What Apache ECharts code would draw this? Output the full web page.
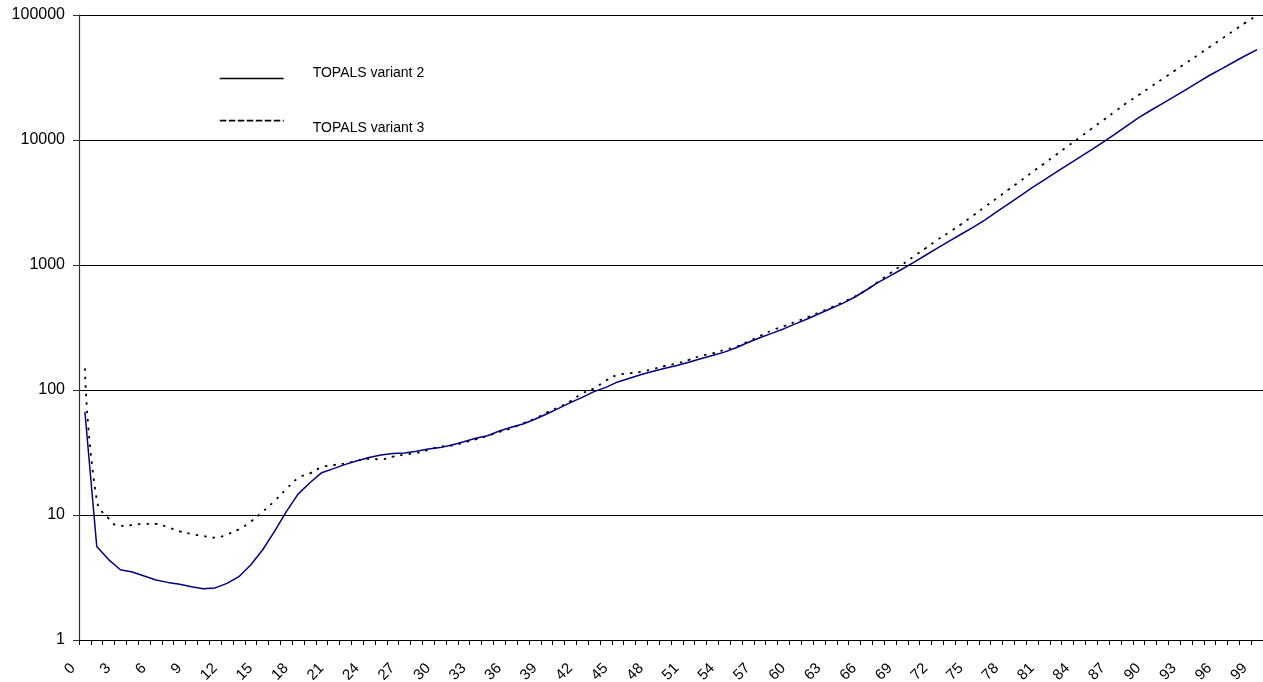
<!DOCTYPE html>
<html>
<head>
<meta charset="utf-8">
<script src="https://cdn.jsdelivr.net/npm/echarts@6/dist/echarts.min.js"></script>
<style>
html,body{margin:0;padding:0;background:#fff;}
#chart{width:1263px;height:682px;}
</style>
</head>
<body>
<div id="chart"></div>
<script>
var categories = [];
for (var a = 0; a <= 99; a++) categories.push(String(a));

var yTickLabels = ['1', '10', '100', '1000', '10000', '100000'];

var seriesNames = ['TOPALS variant 2', 'TOPALS variant 3'];

var variant2 = [
  67, 5.6, 4.4, 3.65, 3.5, 3.25, 3.02, 2.89, 2.79, 2.67,
  2.57, 2.61, 2.84, 3.21, 3.98, 5.25, 7.35, 10.6, 14.7, 18.1,
  21.8, 23.5, 25.4, 27.2, 28.8, 30.2, 31.1, 31.3, 32.3, 33.7,
  34.6, 36.3, 38.6, 41.1, 43.1, 47, 50.3, 53.5, 58.3, 64.3,
  71.3, 79.2, 87.4, 97, 105, 116, 124, 133, 141, 149,
  157, 167, 178, 189, 201, 218, 240, 262, 284, 308,
  338, 370, 407, 449, 493, 552, 631, 726, 819, 925,
  1050, 1197, 1366, 1552, 1762, 2000, 2290, 2660, 3080, 3580,
  4150, 4780, 5500, 6320, 7260, 8340, 9600, 11140, 12980, 15130,
  17220, 19550, 22200, 25300, 28850, 32960, 37070, 41880, 47200, 52800
];

var variant3 = [
  149, 13.2, 9.4, 8.17, 8.3, 8.5, 8.5, 7.97, 7.4, 7.05,
  6.79, 6.59, 7.0, 7.68, 8.84, 10.6, 12.9, 16.1, 19.7, 21.5,
  24.1, 25.1, 25.9, 27.2, 28.1, 27.9, 29.3, 30.4, 31.3, 33.1,
  35.2, 36, 37.9, 40.3, 42.9, 46.1, 49.4, 54.1, 59, 65.9,
  72.7, 81.2, 94, 103, 119, 132, 136, 140, 147, 156,
  163, 174, 187, 196, 209, 222, 244, 270, 299, 323,
  351, 381, 417, 456, 504, 557, 632, 735, 857, 1003,
  1170, 1361, 1589, 1830, 2115, 2480, 2910, 3410, 4010, 4700,
  5520, 6470, 7590, 8910, 10450, 12270, 14390, 16900, 19820, 22900,
  26550, 30760, 35650, 41300, 47860, 55590, 64400, 74600, 86500, 99000
];

var chart = echarts.init(document.getElementById('chart'), null, {renderer: 'canvas'});
var font = 'Liberation Sans, Arial, sans-serif';

function legendFor(name, top, lineStyle, pad) {
  return {
    orient: 'vertical',
    left: 219,
    top: top,
    padding: 0,
    itemWidth: 64,
    itemHeight: 14,
    selectedMode: false,
    formatter: '{t|{name}}',
    textStyle: {
      fontFamily: font, fontSize: 14, color: '#000',
      rich: {t: {fontFamily: font, fontSize: 14, color: '#000', padding: pad}}
    },
    data: [{
      name: name,
      lineStyle: lineStyle,
      itemStyle: {color: 'rgba(0,0,0,0)', borderWidth: 0, opacity: 0}
    }]
  };
}

chart.setOption({
  animation: false,
  backgroundColor: '#fff',
  textStyle: {fontFamily: font},
  grid: {left: 79, right: 0, top: 15, bottom: 42, containLabel: false, outerBoundsMode: 'none'},
  legend: [
    legendFor(seriesNames[0], 66, {color: '#000', width: 1.3, type: 'solid', opacity: 1}, [0, 0, 11, 24]),
    legendFor(seriesNames[1], 115, {color: '#000', width: 1.6, type: [6.5, 2.5], opacity: 1}, [15, 0, 0, 24])
  ],
  xAxis: {
    type: 'category',
    data: categories,
    boundaryGap: true,
    axisLine: {lineStyle: {color: '#000', width: 1}},
    axisTick: {show: true, interval: 0, length: 5, lineStyle: {color: '#000'}},
    axisLabel: {interval: 2, rotate: 45, fontSize: 15, color: '#000', fontFamily: font,
                margin: 14, padding: [0, 17, 0, 0]},
    splitLine: {show: false}
  },
  yAxis: {
    type: 'log',
    logBase: 10,
    min: 1,
    max: 100000,
    axisLine: {show: true, lineStyle: {color: '#333', width: 1.2}},
    axisTick: {show: true, length: 6, lineStyle: {color: '#333'}},
    axisLabel: {
      fontSize: 16, color: '#000', fontFamily: font, margin: 14,
      formatter: function (v) {
        var idx = Math.round(Math.log10(v));
        return yTickLabels[idx] !== undefined ? yTickLabels[idx] : '';
      }
    },
    splitLine: {show: true, lineStyle: {color: '#000', width: 1}},
    minorTick: {show: false},
    minorSplitLine: {show: false}
  },
  series: [
    {
      name: seriesNames[0],
      type: 'line',
      data: variant2,
      symbol: 'none',
      smooth: false,
      lineStyle: {color: '#000080', width: 1.5, type: 'solid'},
      itemStyle: {color: '#000080'},
      z: 3
    },
    {
      name: seriesNames[1],
      type: 'line',
      data: variant3,
      symbol: 'none',
      smooth: true,
      lineStyle: {color: '#000', width: 1.8, type: [2.5, 6]},
      itemStyle: {color: '#000'},
      z: 2
    }
  ]
});
</script>
</body>
</html>
